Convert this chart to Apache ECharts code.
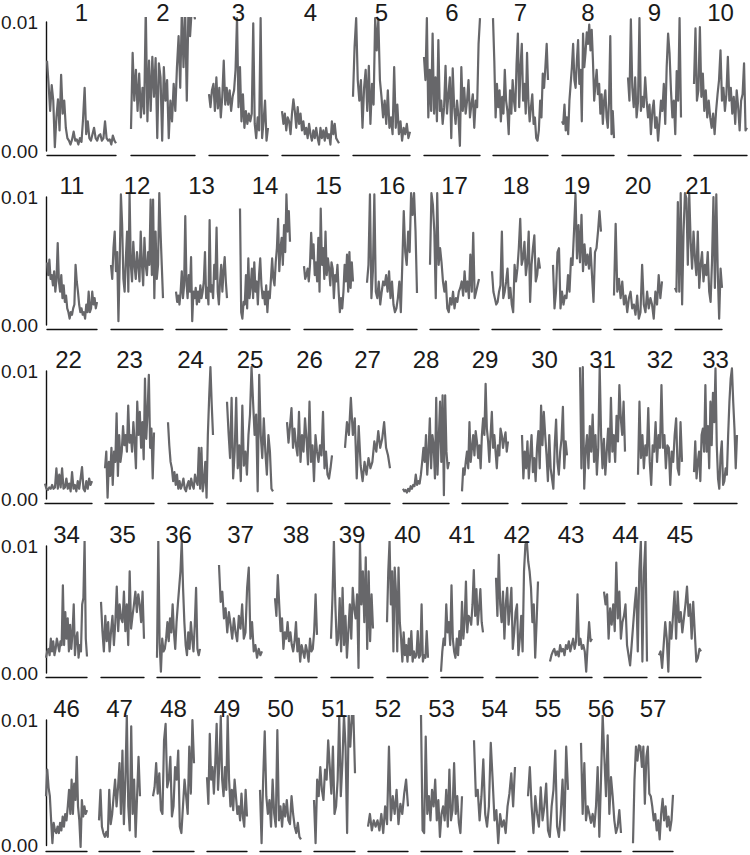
<!DOCTYPE html>
<html>
<head>
<meta charset="utf-8">
<script src="https://cdn.jsdelivr.net/npm/echarts@6/dist/echarts.min.js"></script>
<style>
  html, body { margin: 0; padding: 0; background: #fff; }
  #chart { width: 750px; height: 855px; }
</style>
</head>
<body>
<div id="chart"></div>
<script>
// values are in units of 0.001 (the axis runs 0.00 .. 0.01)
const yTickLabels = ["0.00", "0.01"];

const s1 = [7.0, 5.2, 3.1, 5.1, 3.9, 0.3, 2.6, 4.0, 1.6, 5.9, 2.9, 3.9, 1.8, 1.0, 0.8, 0.5, 0.9, 1.5, 0.8, 0.9, 0.5, 1.0, 0.7, 2.5, 4.9, 1.3, 2.3, 1.0, 0.8, 1.3, 1.8, 1.0, 0.8, 1.2, 1.3, 0.8, 1.0, 2.3, 1.0, 0.8, 0.9, 0.5, 1.2, 0.8, 0.6];
const s2 = [1.7, 7.6, 3.9, 6.3, 3.1, 6.0, 2.6, 4.9, 2.9, 11, 2.3, 7.0, 3.1, 7.3, 4.2, 7.2, 1.0, 6.8, 5.7, 0.8, 6.5, 3.9, 5.5, 1.0, 3.9, 2.3, 5.2, 3.1, 6.5, 8.9, 4.9, 11, 6.5, 11, 3.9, 11, 8.9, 11, 11, 10.2];
const s3 = [4.4, 3.4, 4.7, 5.2, 3.1, 5.7, 3.3, 4.9, 2.6, 4.2, 7.0, 3.6, 4.9, 3.6, 4.7, 3.1, 4.2, 4.7, 6.3, 10.3, 3.4, 6.5, 2.3, 4.4, 1.8, 3.1, 2.1, 2.9, 2.3, 2.9, 9.9, 2.1, 1.0, 2.6, 1.6, 10.3, 1.0, 2.3, 3.9, 0.8, 1.8];
const s4 = [3.1, 2.1, 2.9, 1.6, 2.6, 2.3, 1.3, 2.9, 4.0, 3.1, 1.8, 3.4, 2.1, 2.9, 1.6, 2.3, 1.3, 1.8, 1.0, 2.1, 1.3, 0.8, 1.6, 1.0, 1.8, 1.0, 0.5, 1.8, 1.0, 1.6, 0.8, 1.8, 1.0, 1.3, 0.5, 2.3, 1.3, 2.1, 1.0, 0.8, 0.6];
const s5 = [4.2, 8.1, 10.3, 5.5, 3.9, 5.5, 1.8, 4.9, 6.3, 3.1, 6.6, 2.1, 5.2, 3.6, 10.3, 7.8, 10.2, 5.5, 4.2, 2.6, 3.9, 2.1, 4.7, 1.8, 2.6, 1.3, 6.5, 1.8, 3.6, 1.3, 2.3, 0.8, 1.8, 1.3, 2.1, 1.0, 1.5];
const s6 = [7.3, 5.5, 10.3, 2.6, 6.3, 3.1, 9.1, 2.9, 5.7, 2.3, 8.6, 3.1, 3.9, 2.1, 3.4, 6.6, 2.9, 4.4, 5.7, 1.0, 6.4, 3.4, 2.1, 3.9, 2.7, 0.4, 6.5, 3.1, 4.9, 2.9, 3.9, 5.5, 2.6, 3.6, 4.4, 1.8, 3.9, 3.4, 8.3, 10.3];
const s7 = [10.3, 7.0, 2.6, 5.2, 3.4, 4.7, 2.3, 4.2, 2.9, 6.3, 3.9, 3.1, 1.3, 4.7, 2.9, 5.5, 3.9, 3.1, 6.8, 9.1, 3.4, 6.5, 8.3, 3.9, 5.2, 2.9, 7.6, 3.9, 2.3, 3.4, 4.4, 2.1, 2.6, 1.0, 0.8, 1.6, 3.9, 2.6, 6.0, 4.9, 6.5, 8.3, 5.5];
const s8 = [2.3, 2.1, 3.6, 1.6, 2.6, 1.3, 3.9, 5.2, 6.5, 8.3, 5.5, 4.9, 7.0, 8.6, 5.2, 6.3, 2.3, 9.1, 6.5, 7.6, 9.2, 8.3, 9.8, 7.8, 9.4, 7.0, 3.9, 5.2, 6.3, 4.4, 5.2, 2.9, 4.4, 2.1, 3.9, 4.7, 2.6, 1.8, 3.9, 8.9, 1.3, 3.1, 1.0];
const s9 = [5.7, 3.9, 10.2, 4.9, 3.4, 5.7, 2.6, 3.8, 10.3, 3.1, 4.2, 3.4, 5.7, 3.9, 2.6, 3.6, 1.3, 3.1, 3.9, 1.8, 2.6, 0.8, 2.3, 3.9, 3.1, 5.2, 2.1, 6.5, 9.1, 7.6, 4.7, 2.6, 3.9, 1.3, 6.2, 3.9, 10.3, 2.6];
const s10 = [5.2, 9.5, 3.9, 4.7, 9.6, 4.2, 6.0, 3.1, 4.7, 2.6, 3.9, 2.6, 1.8, 2.9, 1.3, 3.1, 4.4, 5.5, 7.8, 3.9, 4.9, 3.1, 4.4, 7.3, 3.9, 4.9, 2.9, 4.2, 2.1, 4.7, 3.4, 1.6, 3.9, 4.4, 6.8, 1.6, 1.8];
const s11 = [4.9, 3.9, 5.1, 3.6, 3.9, 3.1, 4.2, 2.6, 3.6, 6.4, 3.4, 2.6, 3.9, 2.1, 3.1, 1.8, 2.3, 1.3, 1.0, 0.5, 1.0, 0.8, 1.3, 1.6, 4.7, 3.4, 2.6, 1.6, 1.0, 1.3, 0.8, 1.0, 0.5, 1.6, 1.0, 2.6, 1.0, 1.3, 2.6, 1.6, 2.1, 1.3, 1.8];
const s12 = [4.7, 3.6, 6.0, 7.3, 4.2, 5.7, 0.3, 4.7, 10.2, 7.8, 3.6, 2.6, 5.2, 7.3, 2.6, 10.3, 4.7, 3.4, 6.5, 4.7, 3.6, 5.7, 4.7, 3.4, 7.3, 4.7, 3.1, 6.8, 4.7, 3.9, 5.7, 4.7, 9.8, 3.9, 9.8, 2.1, 7.3, 3.6, 4.7, 10.3, 7.3, 4.7, 2.1];
const s13 = [2.6, 1.8, 2.3, 1.6, 2.6, 4.2, 2.1, 3.1, 8.5, 3.4, 2.1, 3.9, 2.6, 5.3, 0.3, 2.6, 2.1, 2.9, 1.6, 2.6, 1.8, 3.1, 2.1, 2.6, 3.4, 5.7, 2.1, 2.9, 1.6, 8.2, 2.6, 3.1, 2.1, 4.7, 3.6, 7.6, 2.6, 1.6, 3.4, 4.7, 2.6, 4.2, 5.3, 3.4, 2.1];
const s14 = [9.1, 1.0, 0.5, 1.8, 1.6, 3.9, 1.3, 5.2, 2.1, 3.1, 4.4, 2.1, 4.9, 2.6, 3.4, 1.6, 3.9, 5.2, 3.1, 2.1, 2.6, 1.6, 3.1, 1.0, 2.6, 2.1, 3.6, 5.2, 3.6, 3.1, 4.9, 6.0, 8.3, 4.2, 6.0, 6.8, 4.7, 7.8, 5.7, 10.2, 7.3, 8.9, 6.5];
const s15 = [4.6, 3.6, 3.9, 4.4, 3.4, 4.7, 7.2, 5.2, 6.3, 3.9, 4.9, 3.4, 6.8, 2.6, 9.1, 4.7, 6.0, 3.6, 7.3, 3.9, 5.2, 4.4, 3.1, 4.9, 4.4, 2.1, 3.9, 3.4, 4.7, 2.6, 1.0, 2.1, 1.3, 2.6, 4.7, 3.4, 5.5, 2.6, 5.7, 2.9, 4.9, 3.4];
const s16 = [3.3, 4.7, 10.2, 2.1, 4.2, 10.2, 2.6, 2.1, 3.4, 1.6, 2.6, 3.4, 3.1, 3.9, 2.6, 4.2, 2.1, 3.4, 1.6, 1.0, 1.3, 2.1, 3.4, 1.0, 4.7, 8.9, 5.7, 4.7, 7.3, 5.7, 10.3, 8.6, 10.3, 7.3, 2.5];
const s17 = [4.7, 10.3, 9.4, 7.3, 2.1, 10.3, 4.7, 6.0, 4.9, 3.4, 2.6, 3.4, 1.3, 1.0, 2.1, 1.6, 2.6, 1.3, 2.1, 1.8, 2.6, 2.9, 3.4, 2.3, 4.2, 2.6, 3.4, 2.1, 5.5, 2.6, 7.2, 2.1, 2.6, 3.1, 3.6];
const s18 = [4.2, 2.6, 2.1, 1.6, 1.8, 2.6, 3.1, 7.3, 2.1, 2.6, 3.4, 4.4, 2.1, 2.9, 1.6, 1.0, 4.7, 3.4, 4.4, 6.0, 8.3, 4.7, 5.2, 6.5, 3.9, 4.9, 7.3, 1.8, 4.7, 6.0, 7.0, 3.4, 3.9, 5.2, 4.4];
const s19 = [4.7, 1.3, 2.6, 5.7, 6.0, 1.3, 2.6, 1.6, 2.3, 2.1, 3.9, 2.6, 5.2, 4.7, 7.3, 10.2, 5.2, 7.8, 4.9, 8.6, 4.2, 6.3, 4.7, 5.5, 4.4, 6.0, 3.9, 1.8, 5.7, 6.0, 7.3, 8.9, 7.3];
const s20 = [2.3, 7.9, 2.6, 3.6, 2.1, 3.4, 1.6, 2.3, 1.0, 2.1, 2.6, 1.3, 1.6, 0.8, 2.3, 0.5, 1.0, 4.7, 1.6, 1.0, 2.6, 1.3, 2.1, 1.6, 0.5, 2.6, 1.6, 3.9, 2.1, 3.4];
const s21 = [2.9, 2.6, 9.6, 2.6, 10.3, 1.6, 7.3, 10.3, 9.9, 4.7, 10.3, 6.5, 4.4, 7.3, 5.2, 3.9, 7.3, 2.9, 4.7, 5.7, 3.4, 4.7, 3.9, 5.7, 2.6, 1.8, 5.0, 10.0, 2.9, 10.2, 4.2, 0.5, 4.4, 2.9];
const s22 = [1.2, 0.8, 0.7, 0.9, 0.8, 1.1, 0.8, 0.9, 2.4, 0.8, 1.9, 0.9, 2.4, 0.8, 0.9, 1.6, 0.8, 1.2, 0.6, 2.1, 0.8, 1.1, 0.6, 1.4, 0.8, 1.6, 2.5, 0.8, 0.6, 1.4, 0.8, 1.6, 1.1, 1.4];
const s23 = [2.4, 3.7, 0.1, 2.9, 1.8, 4.0, 1.1, 3.7, 2.9, 6.7, 1.8, 5.0, 2.9, 3.7, 5.7, 4.2, 5.0, 3.7, 7.3, 4.4, 5.0, 3.7, 6.0, 4.4, 2.4, 7.6, 5.0, 6.8, 4.0, 6.0, 3.1, 9.4, 4.7, 6.8, 9.7, 4.0, 5.5, 1.6, 5.2];
const s24 = [6.0, 4.2, 2.9, 2.4, 1.4, 2.1, 1.1, 1.9, 0.8, 1.4, 0.8, 1.1, 1.6, 0.8, 0.6, 1.1, 1.4, 0.8, 1.6, 1.1, 0.8, 1.9, 1.4, 1.1, 4.0, 0.8, 4.0, 0.6, 1.4, 2.9, 0.1, 5.0, 7.9, 10.3, 7.4, 5.0];
const s25 = [7.6, 5.2, 3.2, 7.9, 1.6, 3.7, 7.9, 2.4, 4.2, 1.4, 7.3, 2.6, 3.7, 1.9, 5.0, 6.6, 10.3, 7.6, 5.0, 6.6, 0.6, 9.7, 5.0, 3.2, 6.3, 3.7, 1.9, 5.0, 3.7, 0.8, 0.6];
const s26 = [6.0, 4.4, 5.7, 7.1, 4.0, 5.5, 4.2, 3.4, 6.8, 2.9, 5.0, 3.7, 6.3, 4.7, 2.7, 7.6, 2.9, 4.2, 1.4, 5.0, 3.7, 2.9, 4.2, 3.4, 6.8, 2.4, 3.7, 1.9, 1.6, 2.4, 3.4];
const s27 = [4.0, 6.0, 5.0, 7.9, 5.0, 6.3, 1.6, 5.7, 2.6, 1.4, 2.9, 1.9, 3.2, 2.4, 2.9, 4.5, 3.7, 5.3, 4.0, 4.7, 6.0, 4.0, 3.4, 2.4];
const s28 = [0.8, 0.6, 0.7, 0.5, 0.8, 0.6, 1.0, 0.8, 1.1, 1.0, 1.9, 1.1, 1.4, 1.2, 1.9, 2.9, 4.0, 2.9, 5.0, 1.9, 3.7, 6.3, 2.4, 5.0, 4.2, 1.6, 7.9, 1.9, 4.7, 7.6, 2.9, 8.1, 0.3, 8.1, 3.7, 2.4, 2.9];
const s29 = [0.6, 2.4, 1.9, 2.9, 3.7, 2.4, 6.0, 2.9, 4.0, 5.0, 3.4, 5.3, 4.5, 3.2, 4.2, 2.4, 5.0, 6.3, 5.0, 9.0, 5.5, 4.5, 2.9, 5.0, 6.8, 4.0, 5.0, 3.7, 2.4, 4.2, 3.4, 5.5, 5.0, 4.0, 4.7, 5.2, 3.7, 4.5];
const s30 = [5.0, 1.6, 3.7, 2.4, 4.5, 1.6, 3.4, 5.0, 2.1, 3.2, 1.4, 4.0, 5.3, 2.4, 7.3, 4.2, 6.8, 5.0, 3.4, 1.4, 5.0, 2.4, 1.6, 0.8, 4.2, 6.2, 2.9, 1.9, 3.7, 4.7, 7.2, 2.4, 4.5, 3.4];
const s31 = [10.3, 2.4, 10.3, 0.8, 3.7, 5.0, 2.4, 5.7, 3.7, 6.6, 2.9, 5.0, 1.9, 4.0, 10.3, 5.0, 2.4, 4.7, 1.9, 3.7, 5.5, 2.9, 7.9, 3.7, 5.0, 2.9, 6.5, 4.5, 8.9, 6.3, 5.0, 7.6, 3.7];
const s32 = [1.9, 7.6, 3.2, 5.0, 2.4, 4.2, 3.4, 7.1, 2.9, 1.1, 4.2, 3.7, 6.0, 2.9, 5.0, 4.0, 8.9, 4.0, 5.0, 2.4, 4.2, 4.0, 1.1, 3.7, 2.9, 5.0, 6.3, 2.4, 1.9, 6.0, 2.9];
const s33 = [2.1, 4.5, 1.6, 2.9, 3.7, 1.4, 5.0, 5.5, 3.7, 8.9, 3.7, 5.7, 2.4, 7.6, 4.2, 8.3, 6.0, 10.2, 4.2, 1.6, 0.8, 3.4, 4.5, 1.1, 1.4, 2.4, 1.9, 5.0, 7.6, 9.4, 10.2, 7.6, 5.5, 2.4, 5.0];
const s34 = [1.2, 1.7, 1.9, 1.4, 2.7, 1.7, 2.5, 1.4, 1.9, 2.7, 2.2, 1.7, 2.5, 2.2, 6.9, 2.2, 4.8, 2.7, 4.3, 1.7, 3.8, 1.9, 3.2, 5.4, 1.4, 2.7, 3.2, 1.2, 2.2, 1.7, 5.4, 5.9, 10.4, 2.7, 1.3];
const s35 = [5.6, 3.3, 1.7, 4.5, 2.5, 4.0, 1.7, 3.3, 4.5, 2.2, 4.0, 6.8, 3.3, 5.4, 4.3, 4.0, 6.4, 3.3, 5.4, 2.2, 8.0, 3.5, 4.5, 5.4, 6.4, 4.8, 6.2, 5.4, 4.0, 6.4, 2.7];
const s36 = [1.2, 10.4, 2.4, 0.1, 2.7, 1.7, 1.9, 2.7, 4.0, 2.5, 4.3, 3.2, 5.4, 3.2, 1.9, 4.0, 5.4, 6.7, 8.0, 10.4, 6.7, 4.0, 2.2, 1.4, 3.2, 1.9, 4.0, 2.7, 1.7, 3.8, 6.7, 1.9, 1.4, 1.9];
const s37 = [8.5, 5.6, 6.4, 4.3, 5.1, 3.2, 4.8, 3.8, 2.7, 4.3, 3.2, 2.5, 4.5, 3.5, 5.4, 2.7, 3.2, 6.7, 8.3, 2.7, 4.0, 1.7, 2.2, 1.2, 1.9, 1.4, 1.7];
const s38 = [5.9, 4.5, 7.7, 5.4, 3.3, 4.3, 1.9, 3.2, 2.7, 4.0, 2.5, 3.2, 2.2, 1.7, 2.5, 4.0, 1.7, 2.7, 0.9, 2.2, 1.7, 1.2, 2.2, 1.7, 0.9, 2.7, 1.7, 1.9, 3.3, 6.2, 3.0];
const s39 = [2.7, 5.9, 10.4, 5.4, 2.2, 2.7, 5.9, 1.7, 6.7, 2.2, 4.5, 1.2, 3.3, 5.4, 2.7, 6.7, 5.1, 4.3, 6.2, 0.4, 10.4, 5.4, 8.0, 4.0, 9.1, 1.9, 8.0, 2.5, 6.2, 3.5];
const s40 = [4.0, 8.0, 10.4, 5.4, 8.0, 1.7, 8.3, 6.4, 1.7, 8.3, 4.0, 2.7, 0.9, 3.2, 1.4, 2.2, 0.9, 2.7, 1.4, 3.3, 0.9, 1.7, 1.2, 1.4, 3.3, 1.2, 1.4, 5.4, 0.9, 1.4, 1.2, 3.3, 1.2];
const s41 = [0.1, 1.7, 2.7, 2.2, 5.4, 3.2, 4.0, 2.2, 6.9, 2.7, 1.7, 1.2, 2.7, 1.4, 3.3, 2.2, 5.6, 2.7, 4.0, 7.2, 3.2, 4.5, 4.3, 3.8, 5.4, 8.1, 4.5, 6.6, 3.8, 5.1, 6.6, 4.0, 3.2];
const s42 = [7.5, 4.5, 9.3, 5.4, 4.0, 6.4, 2.7, 5.4, 6.7, 3.8, 5.1, 6.7, 1.9, 3.2, 4.8, 5.4, 1.4, 2.7, 4.5, 1.7, 8.0, 10.1, 10.4, 8.8, 8.0, 6.7, 4.0, 5.4, 1.2, 4.0, 7.2];
const s43 = [0.9, 1.4, 1.7, 1.9, 1.4, 1.7, 1.3, 2.2, 1.7, 1.9, 1.4, 2.2, 1.9, 2.5, 1.7, 2.2, 2.7, 1.9, 2.5, 6.2, 2.2, 2.7, 1.9, 2.2, 1.7, 0.1, 2.2, 4.0, 2.5, 2.7];
const s44 = [6.4, 5.4, 6.2, 2.7, 5.1, 3.8, 5.4, 3.3, 8.7, 4.3, 6.4, 2.7, 4.0, 4.5, 5.4, 2.2, 1.4, 0.6, 2.2, 3.8, 5.4, 6.7, 1.7, 8.0, 10.4, 0.9, 8.0, 10.4, 0.9];
const s45 = [1.4, 1.7, 0.4, 2.2, 4.0, 2.7, 0.1, 4.0, 2.7, 4.5, 6.4, 2.7, 6.4, 4.0, 4.8, 3.2, 4.3, 5.4, 6.8, 4.5, 5.4, 2.7, 5.6, 3.2, 0.9, 1.2, 1.9, 1.7];
const s46 = [4.0, 6.1, 4.7, 4.0, 2.1, 0.3, 1.9, 1.3, 1.1, 1.6, 1.1, 1.9, 1.3, 2.4, 1.6, 2.6, 2.1, 3.2, 4.5, 2.6, 5.3, 2.6, 5.0, 3.7, 7.1, 3.2, 2.1, 0.0, 3.7, 2.4, 3.2, 2.6, 2.9];
const s47 = [2.1, 4.5, 1.6, 1.1, 0.8, 1.2, 0.8, 4.5, 1.8, 2.6, 4.0, 5.3, 3.2, 4.7, 6.6, 2.6, 7.6, 1.8, 5.3, 10.4, 3.2, 1.3, 9.5, 2.6, 5.3, 0.8, 4.0, 7.1, 4.0];
const s48 = [4.0, 4.7, 6.6, 4.2, 5.8, 2.9, 2.6, 8.4, 9.7, 4.7, 5.3, 7.1, 2.4, 3.2, 6.3, 5.3, 7.6, 1.6, 1.1, 3.2, 5.3, 4.0, 2.6, 7.9, 4.2, 10.0, 6.6];
const s49 = [5.5, 3.4, 8.9, 5.3, 6.3, 4.2, 6.6, 9.7, 4.5, 6.6, 10.3, 5.3, 4.0, 6.3, 4.5, 10.3, 5.3, 3.2, 4.5, 2.9, 5.3, 4.0, 2.6, 3.2, 2.1, 4.2, 2.4, 1.6, 4.5, 2.4];
const s50 = [4.5, 0.3, 5.3, 9.1, 4.0, 2.6, 3.7, 1.6, 5.3, 2.6, 1.6, 9.2, 2.1, 3.2, 1.6, 3.4, 2.4, 3.7, 2.1, 1.8, 4.0, 2.6, 1.6, 1.1, 1.9, 0.8, 0.6];
const s51 = [3.7, 0.3, 5.3, 4.0, 6.3, 4.5, 3.7, 6.1, 5.3, 8.4, 6.3, 4.2, 7.9, 2.6, 3.2, 5.3, 10.4, 4.0, 6.6, 10.4, 7.9, 1.1, 10.4, 7.9, 10.4, 10.4, 5.8];
const s52 = [1.6, 2.6, 1.3, 2.1, 1.6, 2.1, 1.3, 2.6, 1.1, 3.2, 1.8, 7.9, 2.1, 4.0, 2.6, 4.5, 1.8, 3.4, 2.6, 4.2, 5.3, 3.2];
const s53 = [10.4, 1.3, 1.1, 8.7, 2.6, 4.0, 2.1, 4.5, 3.2, 5.3, 2.1, 3.7, 0.8, 2.6, 3.2, 2.1, 4.5, 1.6, 6.1, 2.1, 2.9, 6.6, 2.6, 4.0, 1.9, 1.1, 4.0];
const s54 = [8.4, 4.0, 4.5, 2.1, 4.0, 6.9, 2.6, 1.6, 3.2, 8.2, 5.3, 2.1, 2.9, 0.3, 2.6, 1.6, 2.1, 1.1, 3.2, 4.2, 5.8, 3.2, 6.3];
const s55 = [4.0, 6.3, 3.2, 1.1, 4.0, 2.6, 1.6, 4.7, 2.1, 3.2, 5.0, 1.3, 0.8, 3.2, 4.5, 7.6, 1.6, 0.8, 2.6, 5.3, 1.3, 7.9, 4.5];
const s56 = [8.2, 2.6, 6.6, 2.1, 3.2, 2.6, 1.9, 2.6, 1.6, 3.2, 6.3, 0.8, 5.3, 10.4, 7.1, 4.0, 8.8, 2.6, 5.5, 4.0, 2.1, 1.1, 1.6, 2.9, 1.1];
const s57 = [0.3, 5.3, 7.9, 6.8, 8.0, 7.9, 6.3, 7.9, 3.4, 7.1, 7.9, 4.2, 4.0, 3.2, 2.1, 2.6, 1.3, 2.1, 0.6, 2.6, 3.8, 2.1, 3.2, 1.6, 2.4, 1.3, 2.1, 4.1];

const seriesData = [s1, s2, s3, s4, s5, s6, s7, s8, s9, s10, s11, s12, s13, s14, s15, s16, s17, s18, s19, s20,
  s21, s22, s23, s24, s25, s26, s27, s28, s29, s30, s31, s32, s33, s34, s35, s36, s37, s38, s39, s40,
  s41, s42, s43, s44, s45, s46, s47, s48, s49, s50, s51, s52, s53, s54, s55, s56, s57];

// layout: pixel rows (y of 0.01 and of 0) and panel spans per row
const rowY = [[22, 151], [197, 325], [371, 499], [546, 673], [720, 847]];
const rowSpans = [
  [[47, 116], [131, 195], [209, 268], [282, 339], [353, 410], [424, 480], [493, 548], [562, 614], [628, 681], [694, 747]],
  [[47, 97], [111, 163], [176, 227], [240, 290], [304, 353], [367, 417], [430, 479], [492, 540], [553, 601], [614, 662], [675, 722]],
  [[45, 92], [105, 154], [168, 213], [227, 273], [287, 332], [345, 390], [403, 449], [462, 508], [522, 567], [580, 625], [638, 682], [694, 737]],
  [[46, 87], [101, 144], [157, 200], [219, 262], [275, 317], [331, 373], [387, 428], [441, 483], [496, 538], [550, 592], [604, 647], [659, 701]],
  [[46, 87], [99, 140], [153, 194], [207, 247], [260, 301], [314, 355], [368, 408], [421, 462], [474, 515], [528, 568], [581, 621], [633, 673]]
];

const lineColor = "#67676a";
const inkColor = "#111";
const headroom = 4; // px the traces may run above 0.01 before clipping

const grid = [], xAxis = [], yAxis = [], series = [], title = [];
let k = 0;
rowSpans.forEach((spans, r) => {
  const [yTop, yBot] = rowY[r];
  const h = yBot - yTop;

  // the shared y axis at the left of each row
  const ag = grid.length;
  grid.push({ left: 45, top: yTop, width: 1, height: h });
  xAxis.push({ gridIndex: ag, type: "value", min: 0, max: 1, show: false });
  yAxis.push({
    gridIndex: ag, type: "value", min: 0, max: 10, interval: 10,
    axisLine: { show: true, lineStyle: { color: inkColor, width: 1.4 } },
    axisTick: { show: false },
    splitLine: { show: false },
    axisLabel: {
      fontSize: 19, color: "#1a1a1a", margin: 8, fontFamily: "Liberation Sans, Arial, sans-serif",
      formatter: (v) => yTickLabels[Math.round(v / 10)]
    }
  });

  spans.forEach(([x0, x1]) => {
    const data = seriesData[k];
    const gi = grid.length;
    grid.push({ left: x0, top: yTop - headroom, width: x1 - x0, height: h + headroom });
    xAxis.push({
      gridIndex: gi, type: "value", min: 0, max: data.length - 1,
      offset: 4,
      axisLine: { show: true, onZero: false, lineStyle: { color: inkColor, width: 1.4 } },
      axisTick: { show: false }, axisLabel: { show: false }, splitLine: { show: false }
    });
    yAxis.push({
      gridIndex: gi, type: "value", min: 0, max: 10 * (h + headroom) / h, show: false
    });
    series.push({
      type: "line", xAxisIndex: gi, yAxisIndex: gi,
      data: data.map((v, i) => [i, v]),
      showSymbol: false, clip: true,
      lineStyle: { color: lineColor, width: 2.2, join: "round" }
    });
    title.push({
      text: String(k + 1), left: (x0 + x1) / 2, top: Math.max(0, yTop - 24), textAlign: "center", padding: 0,
      textStyle: { fontSize: 24, fontWeight: "normal", color: "#1a1a1a", fontFamily: "Liberation Sans, Arial, sans-serif" }
    });
    k++;
  });
});

const chart = echarts.init(document.getElementById("chart"), null, { renderer: "svg" });
chart.setOption({
  animation: false,
  backgroundColor: "#fff",
  title, grid, xAxis, yAxis, series
});
</script>
</body>
</html>
